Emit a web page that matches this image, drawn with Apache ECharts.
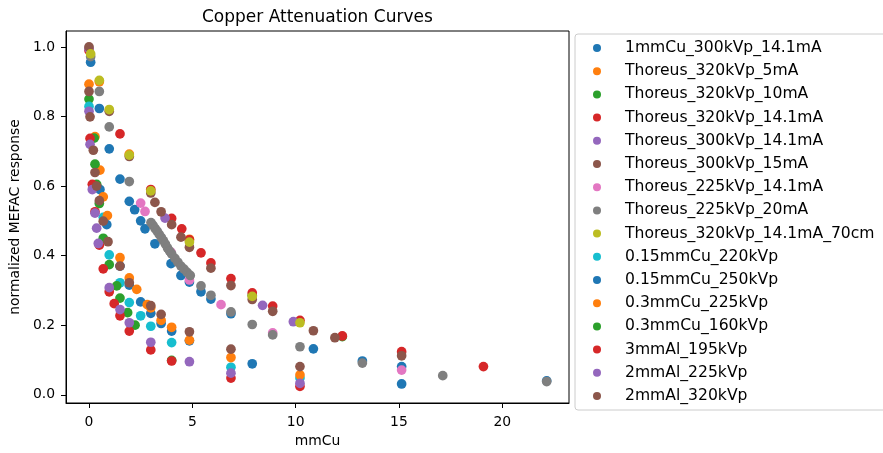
<!DOCTYPE html>
<html>
<head>
<meta charset="utf-8">
<script src="https://cdn.jsdelivr.net/npm/echarts@6/dist/echarts.min.js"></script>
<style>
  html, body { margin: 0; padding: 0; background: #fff; }
  #chart { width: 883px; height: 453px; }
</style>
</head>
<body>
<div id="chart"></div>
<script>
// series names in legend order
var seriesNames = [
  '1mmCu_300kVp_14.1mA', 'Thoreus_320kVp_5mA', 'Thoreus_320kVp_10mA',
  'Thoreus_320kVp_14.1mA', 'Thoreus_300kVp_14.1mA', 'Thoreus_300kVp_15mA',
  'Thoreus_225kVp_14.1mA', 'Thoreus_225kVp_20mA', 'Thoreus_320kVp_14.1mA_70cm',
  '0.15mmCu_220kVp', '0.15mmCu_250kVp', '0.3mmCu_225kVp', '0.3mmCu_160kVp',
  '3mmAl_195kVp', '2mmAl_225kVp', '2mmAl_320kVp'
];
var colors = ['#1f77b4', '#ff7f0e', '#2ca02c', '#d62728', '#9467bd', '#8c564b',
  '#e377c2', '#7f7f7f', '#bcbd22', '#17becf', '#1f77b4', '#ff7f0e', '#2ca02c',
  '#d62728', '#9467bd', '#8c564b'];

var xTicks = [0, 5, 10, 15, 20];
var yTicks = [0, 0.2, 0.4, 0.6, 0.8, 1.0];

// [mmCu, normalized response]
var cu1_300_141 = [[0.08,0.956],[0.5,0.823],[0.98,0.707],[1.5,0.62],[1.95,0.556],[2.21,0.532],[2.5,0.5],[2.71,0.477],[3.19,0.434],[3.97,0.377],[4.45,0.343],[4.86,0.324],[5.42,0.296],[5.9,0.275],[6.87,0.233],[10.86,0.132],[13.23,0.097],[15.13,0.081],[22.15,0.04]];
var th320_5 = [[0,0.893],[0.5,0.9],[1.95,0.692],[4.86,0.447]];
var th320_10 = [[0,0.85],[7.9,0.286],[12.26,0.167]];
var th320_141 = [[0,0.99],[1.5,0.75],[2.99,0.59],[4.0,0.507],[4.49,0.477],[4.86,0.445],[5.42,0.408],[5.9,0.379],[6.87,0.334],[7.9,0.293],[8.89,0.255],[10.21,0.214],[12.26,0.169],[15.13,0.124],[19.09,0.081]];
var th300_141 = [[0,0.995],[3.68,0.508],[8.4,0.257],[9.89,0.21]];
var th300_15 = [[0,1.0],[0.98,0.815],[1.95,0.685],[2.99,0.58],[3.19,0.553],[3.49,0.526],[4.0,0.489],[4.45,0.453],[4.86,0.424],[5.9,0.364],[6.87,0.314],[7.9,0.274],[8.89,0.24],[10.86,0.184],[11.9,0.164],[15.13,0.112]];
var th225_141 = [[2.5,0.551],[2.71,0.527],[3.97,0.41],[4.86,0.33],[6.39,0.259],[8.89,0.178],[15.13,0.071]];
var th225_20 = [[0.08,0.972],[0.5,0.872],[0.98,0.77],[1.95,0.613],[3.0,0.495],[3.1,0.487],[3.2,0.478],[3.3,0.47],[3.4,0.461],[3.5,0.452],[3.6,0.443],[3.7,0.433],[3.8,0.422],[3.9,0.413],[4.0,0.405],[4.16,0.392],[4.3,0.381],[4.45,0.37],[4.6,0.361],[4.75,0.352],[4.9,0.343],[5.42,0.313],[5.9,0.286],[6.87,0.238],[7.9,0.202],[8.89,0.172],[10.21,0.138],[13.23,0.091],[17.12,0.055],[22.15,0.038]];
var th320_141_70 = [[0.08,0.98],[0.5,0.904],[0.98,0.82],[1.95,0.689],[2.99,0.586],[4.86,0.439],[7.9,0.283],[10.21,0.207]];
var cu015_220 = [[0,0.829],[0.37,0.6],[0.69,0.51],[0.98,0.402],[1.5,0.322],[1.95,0.265],[2.5,0.227],[2.99,0.197],[4.0,0.15],[6.87,0.079],[10.21,0.048]];
var cu015_250 = [[0.53,0.59],[0.86,0.489],[1.5,0.37],[1.95,0.315],[2.5,0.267],[2.99,0.234],[3.49,0.205],[4.0,0.183],[4.86,0.155],[7.9,0.089],[15.13,0.031]];
var cu03_225 = [[0.29,0.742],[0.53,0.646],[0.69,0.569],[0.89,0.515],[1.5,0.394],[1.95,0.336],[2.31,0.303],[2.82,0.259],[2.99,0.25],[3.49,0.214],[4.0,0.194],[4.86,0.157],[6.87,0.107],[10.21,0.057]];
var cu03_160 = [[0.25,0.738],[0.29,0.663],[0.37,0.605],[0.5,0.55],[0.69,0.45],[0.98,0.374],[1.34,0.313],[1.5,0.278],[1.87,0.236],[2.23,0.2],[4.0,0.099]];
var al3_195 = [[0.05,0.737],[0.16,0.605],[0.29,0.526],[0.5,0.43],[0.69,0.362],[0.98,0.296],[1.22,0.262],[1.5,0.227],[1.95,0.183],[2.99,0.129],[4.0,0.097],[6.87,0.048],[10.21,0.024]];
var al2_225 = [[0,0.815],[0.05,0.72],[0.16,0.59],[0.29,0.522],[0.37,0.479],[0.45,0.435],[0.98,0.308],[1.5,0.245],[1.95,0.207],[2.99,0.151],[4.86,0.095],[6.87,0.062],[10.21,0.033]];
var al2_320 = [[0,0.872],[0.05,0.799],[0.21,0.703],[0.29,0.639],[0.37,0.6],[0.5,0.558],[0.69,0.499],[0.92,0.44],[1.5,0.37],[1.95,0.322],[2.99,0.256],[3.49,0.231],[4.86,0.181],[6.87,0.131],[10.21,0.081]];

var seriesData = [cu1_300_141, th320_5, th320_10, th320_141, th300_141, th300_15,
  th225_141, th225_20, th320_141_70, cu015_220, cu015_250, cu03_225, cu03_160,
  al3_195, al2_225, al2_320];

var font = 'DejaVu Sans';
var chart = echarts.init(document.getElementById('chart'));

var series = seriesNames.map(function (name, i) {
  return {
    name: name,
    type: 'scatter',
    data: seriesData[i],
    symbolSize: 9.7,
    itemStyle: { color: colors[i], opacity: 1 },
    emphasis: { disabled: true }
  };
});

var option = {
  animation: false,
  title: {
    text: 'Copper Attenuation Curves',
    left: 197,
    top: 4,
    textStyle: { fontFamily: font, fontSize: 17, fontWeight: 'normal', color: '#000' }
  },
  legend: {
    orient: 'vertical',
    left: 575,
    top: 34,
    padding: [5, 12, 5, 18],
    itemWidth: 8,
    itemHeight: 8,
    itemGap: 5.2,
    icon: 'circle',
    selectedMode: false,
    borderColor: '#cccccc',
    borderWidth: 1,
    borderRadius: 3,
    backgroundColor: '#fff',
    textStyle: { fontFamily: font, fontSize: 15.6, color: '#000', lineHeight: 18, padding: [0, 0, 0, 19] },
    data: seriesNames
  },
  grid: {
    left: 66, right: 314, top: 31, bottom: 48,
    show: true, borderColor: '#000', borderWidth: 1, backgroundColor: '#fff'
  },
  xAxis: {
    type: 'value',
    min: -1.113,
    max: 23.23,
    name: 'mmCu',
    nameLocation: 'middle',
    nameGap: 31,
    nameTextStyle: { fontFamily: font, fontSize: 13.9, color: '#000' },
    splitLine: { show: false },
    axisLine: { show: true, onZero: false, lineStyle: { color: '#000', width: 1 } },
    axisTick: { show: true, length: 5, lineStyle: { color: '#000', width: 1 }, customValues: xTicks },
    axisLabel: { fontFamily: font, fontSize: 13.9, color: '#000', margin: 12, customValues: xTicks }
  },
  yAxis: {
    type: 'value',
    min: -0.0237,
    max: 1.0458,
    name: 'normalized MEFAC response',
    nameLocation: 'middle',
    nameGap: 35,
    nameTextStyle: { fontFamily: font, fontSize: 13.9, color: '#000' },
    splitLine: { show: false },
    axisLine: { show: true, onZero: false, lineStyle: { color: '#000', width: 1 } },
    axisTick: { show: true, length: 5, lineStyle: { color: '#000', width: 1 }, customValues: yTicks },
    axisLabel: {
      fontFamily: font, fontSize: 13.9, color: '#000', margin: 11, customValues: yTicks,
      formatter: function (v) { return v.toFixed(1); }
    }
  },
  series: series
};

chart.setOption(option);
</script>
</body>
</html>
